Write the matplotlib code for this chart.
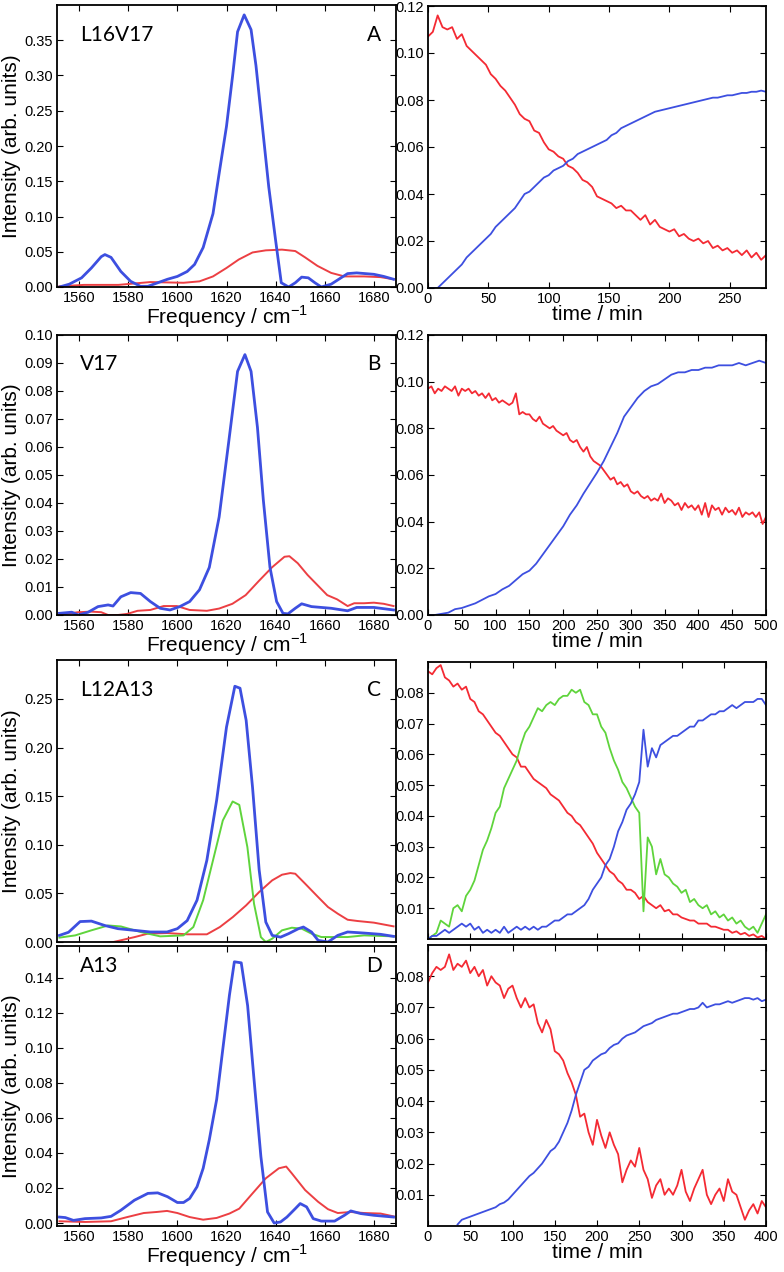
import numpy as np
import matplotlib
matplotlib.use("Agg")
import matplotlib.pyplot as plt
from matplotlib.ticker import FormatStrFormatter, FixedLocator

plt.rcParams['font.family'] = ['Liberation Sans', 'DejaVu Sans']
plt.rcParams['mathtext.fontset'] = 'custom'
plt.rcParams['mathtext.rm'] = 'Liberation Sans'

# ---------------- spectra (left column) ----------------
A_blue_f = [1552, 1556, 1561, 1565, 1569, 1570.5, 1573, 1577, 1581, 1585, 1588, 1592, 1596, 1600, 1604,
            1607, 1610.5, 1614.5, 1617, 1620, 1622.5, 1624.5, 1627.2, 1630, 1632, 1634.6, 1637.2, 1640,
            1642.3, 1645.3, 1648, 1650.6, 1653.3, 1656, 1658.6, 1662.6, 1666.6, 1669.3, 1673, 1680, 1684, 1688]
A_blue_i = [0.0, 0.004, 0.013, 0.027, 0.043, 0.046, 0.042, 0.022, 0.008, 0.001, 0.001, 0.006, 0.011, 0.015,
            0.022, 0.032, 0.056, 0.104, 0.161, 0.228, 0.300, 0.362, 0.386, 0.365, 0.314, 0.228, 0.142, 0.066,
            0.006, 0.0, 0.006, 0.014, 0.013, 0.006, 0.0, 0.004, 0.013, 0.019, 0.020, 0.018, 0.015, 0.011]
A_red_f = [1552, 1562, 1576, 1589, 1602.5, 1609, 1614.5, 1620, 1625, 1630.6, 1636, 1642.6, 1648, 1652,
           1657, 1662.6, 1668, 1676, 1682.7, 1688]
A_red_i = [0.001, 0.003, 0.003, 0.007, 0.006, 0.008, 0.015, 0.027, 0.039, 0.049, 0.052, 0.053, 0.051,
           0.042, 0.030, 0.020, 0.015, 0.015, 0.014, 0.011]

B_blue_f = [1552, 1557, 1559.7, 1563.7, 1567.7, 1571.8, 1573.8, 1577, 1581, 1585, 1589, 1593, 1597, 1601,
            1605, 1609, 1613, 1617, 1621, 1624.5, 1627.5, 1630, 1632.6, 1635, 1637.7, 1640.4, 1643, 1645,
            1648, 1650.6, 1654.6, 1662.6, 1669.3, 1673, 1680, 1688]
B_blue_i = [0.0006, 0.001, 0.0, 0.001, 0.003, 0.0036, 0.0032, 0.0065, 0.008, 0.0077, 0.0048, 0.0024,
            0.0018, 0.003, 0.0048, 0.009, 0.017, 0.035, 0.0625, 0.087, 0.093, 0.087, 0.067, 0.041, 0.017,
            0.0048, 0.0006, 0.0004, 0.0024, 0.004, 0.003, 0.0024, 0.0015, 0.0027, 0.0027, 0.0018]
B_red_f = [1552, 1559.7, 1565, 1569, 1571.8, 1575.8, 1579.6, 1583.8, 1589, 1594.4, 1599.8, 1605, 1612,
           1617, 1622.4, 1627.8, 1633, 1638.5, 1643.6, 1645.6, 1649, 1653, 1657, 1661, 1665, 1669.3, 1672,
           1676, 1680, 1684, 1688]
B_red_i = [0.0002, 0.001, 0.0012, 0.001, 0.0, 0.0, 0.0004, 0.0015, 0.0018, 0.0032, 0.0032, 0.0018, 0.0015,
           0.0023, 0.004, 0.0071, 0.012, 0.017, 0.0208, 0.021, 0.0185, 0.0143, 0.0107, 0.0071, 0.0056,
           0.0032, 0.0042, 0.0042, 0.0044, 0.004, 0.0032]

C_blue_f = [1552, 1555.7, 1560.4, 1565, 1570.4, 1575.8, 1582.5, 1589, 1595.8, 1600, 1604, 1608, 1612, 1616,
            1620, 1623.4, 1625.5, 1628, 1630.6, 1633.3, 1636, 1638.6, 1642, 1645.3, 1649.3, 1651.3, 1654.6,
            1657.3, 1661.3, 1665.3, 1669.3, 1676, 1682.7, 1688]
C_blue_i = [0.0068, 0.010, 0.021, 0.0215, 0.017, 0.0137, 0.012, 0.0103, 0.0103, 0.0137, 0.022, 0.043,
            0.084, 0.146, 0.221, 0.263, 0.261, 0.228, 0.159, 0.074, 0.0205, 0.0068, 0.005, 0.0086, 0.0137,
            0.0154, 0.0103, 0.0017, 0.0, 0.0068, 0.0103, 0.0092, 0.0079, 0.0058]
C_green_f = [1552, 1558.4, 1565, 1571.8, 1577, 1585, 1593, 1602.5, 1606.5, 1610.5, 1614.5, 1618.5, 1622.5,
             1625.2, 1628.5, 1631.2, 1634, 1636, 1638.6, 1642.6, 1646.6, 1650.6, 1654.6, 1658.6, 1669.3,
             1676, 1688]
C_green_i = [0.0045, 0.0068, 0.012, 0.017, 0.016, 0.0103, 0.0058, 0.0068, 0.0154, 0.043, 0.084, 0.125,
             0.1445, 0.141, 0.0976, 0.0394, 0.005, 0.0, 0.0034, 0.012, 0.0147, 0.0137, 0.0086, 0.0051,
             0.0051, 0.0068, 0.0058]
C_red_f = [1552, 1574, 1582.5, 1588, 1595.8, 1604, 1612, 1617.3, 1622.6, 1628, 1633.3, 1638.6, 1642.6,
           1646, 1648, 1652, 1657.3, 1661.3, 1665.3, 1669.3, 1673.3, 1680, 1688]
C_red_i = [-0.004, 0.0, 0.005, 0.0086, 0.0092, 0.0079, 0.0079, 0.0154, 0.0257, 0.0377, 0.0514, 0.0634,
           0.0692, 0.0709, 0.0702, 0.060, 0.0462, 0.036, 0.0291, 0.0229, 0.0216, 0.0199, 0.0161]

D_blue_f = [1552, 1554.4, 1557.7, 1562.4, 1569, 1573, 1577, 1582.5, 1588, 1592, 1596, 1600, 1602.5, 1605,
            1608, 1610.5, 1613, 1616, 1618.5, 1621.2, 1623.2, 1626, 1628.6, 1631.2, 1634, 1636.7, 1639.4,
            1642, 1644.6, 1648, 1650, 1652.6, 1655.3, 1658.6, 1664, 1668, 1670.6, 1674.6, 1680, 1688]
D_blue_i = [0.0034, 0.0031, 0.0015, 0.0025, 0.0029, 0.0038, 0.0073, 0.013, 0.0169, 0.0172, 0.015, 0.0117,
            0.0117, 0.014, 0.0207, 0.0312, 0.0475, 0.0705, 0.0992, 0.13, 0.149, 0.1484, 0.124, 0.082,
            0.0379, 0.0063, 0.0, 0.0006, 0.0034, 0.0082, 0.0111, 0.0092, 0.0025, 0.0011, 0.0011, 0.0044,
            0.0069, 0.0054, 0.0044, 0.0034]
D_red_f = [1552, 1562.4, 1573, 1579.6, 1586.3, 1591.6, 1595.8, 1600, 1605, 1610.5, 1616, 1621.2, 1625.2,
           1630.6, 1636, 1641.3, 1644.3, 1646.6, 1652, 1657.3, 1661.3, 1665.3, 1670.6, 1676, 1682.7, 1688]
D_red_i = [0.001, 0.0006, 0.001, 0.0034, 0.0057, 0.0063, 0.0069, 0.0057, 0.0034, 0.0019, 0.0029, 0.0054,
           0.0082, 0.0169, 0.0255, 0.0312, 0.0322, 0.0283, 0.0188, 0.0121, 0.0079, 0.0057, 0.0063, 0.0057,
           0.0054, 0.0038]

# ---------------- kinetics (right column) ----------------
A_time = np.arange(0, 281, 4)
A_red_k = [0.107, 0.109, 0.116, 0.111, 0.110, 0.111, 0.106, 0.108, 0.103, 0.101,
           0.099, 0.097, 0.095, 0.091, 0.089, 0.086, 0.084, 0.081, 0.078, 0.074,
           0.072, 0.071, 0.067, 0.066, 0.062, 0.059, 0.058, 0.056, 0.055, 0.052,
           0.051, 0.049, 0.046, 0.045, 0.043, 0.039, 0.038, 0.037, 0.036, 0.034,
           0.035, 0.033, 0.033, 0.031, 0.029, 0.031, 0.027, 0.029, 0.026, 0.025,
           0.024, 0.025, 0.022, 0.023, 0.021, 0.020, 0.021, 0.019, 0.020, 0.017,
           0.018, 0.016, 0.017, 0.015, 0.016, 0.014, 0.016, 0.013, 0.015, 0.012,
           0.014]
A_blue_k = [0.0, 0.0, 0.0, 0.002, 0.004, 0.006, 0.008, 0.010, 0.013, 0.015,
            0.017, 0.019, 0.021, 0.023, 0.026, 0.028, 0.030, 0.032, 0.034, 0.037,
            0.040, 0.041, 0.043, 0.045, 0.047, 0.048, 0.050, 0.051, 0.052, 0.054,
            0.055, 0.057, 0.058, 0.059, 0.060, 0.061, 0.062, 0.063, 0.065, 0.066,
            0.068, 0.069, 0.070, 0.071, 0.072, 0.073, 0.074, 0.075, 0.0755, 0.076,
            0.0765, 0.077, 0.0775, 0.078, 0.0785, 0.079, 0.0795, 0.080, 0.0805, 0.081,
            0.081, 0.0815, 0.082, 0.082, 0.0825, 0.083, 0.083, 0.0835, 0.0835, 0.084,
            0.0835]

B_time_red = np.arange(0, 501, 5)
B_red_k = [0.097, 0.098, 0.095, 0.097, 0.096, 0.098, 0.097, 0.096, 0.098, 0.094,
           0.097, 0.096, 0.097, 0.095, 0.096, 0.094, 0.095, 0.093, 0.095, 0.092,
           0.093, 0.091, 0.092, 0.091, 0.090, 0.091, 0.095, 0.086, 0.087, 0.086,
           0.086, 0.084, 0.083, 0.085, 0.082, 0.081, 0.080, 0.081, 0.079, 0.078,
           0.077, 0.078, 0.075, 0.074, 0.075, 0.072, 0.070, 0.072, 0.068, 0.066,
           0.065, 0.064, 0.062, 0.060, 0.058, 0.059, 0.056, 0.057, 0.055, 0.056,
           0.053, 0.052, 0.053, 0.051, 0.050, 0.051, 0.049, 0.050, 0.049, 0.052,
           0.048, 0.050, 0.049, 0.047, 0.048, 0.045, 0.048, 0.046, 0.047, 0.045,
           0.047, 0.043, 0.048, 0.042, 0.047, 0.045, 0.046, 0.043, 0.046, 0.044,
           0.045, 0.043, 0.046, 0.042, 0.044, 0.043, 0.044, 0.042, 0.044, 0.039,
           0.042]
B_time_blue = np.arange(0, 501, 10)
B_blue_k = [0.0, 0.0, 0.0005, 0.001, 0.0025, 0.003, 0.004, 0.005, 0.0065, 0.008,
            0.009, 0.011, 0.0125, 0.015, 0.0175, 0.019, 0.022, 0.026, 0.030, 0.034,
            0.038, 0.043, 0.047, 0.052, 0.0565, 0.061, 0.066, 0.072, 0.078, 0.085,
            0.089, 0.093, 0.096, 0.098, 0.099, 0.101, 0.103, 0.104, 0.104, 0.105,
            0.105, 0.106, 0.106, 0.107, 0.107, 0.107, 0.108, 0.107, 0.108, 0.109,
            0.108]

C_time = np.arange(0, 401, 5)
C_red_k = [0.087, 0.086, 0.088, 0.089, 0.085, 0.084, 0.082, 0.083, 0.081, 0.082,
           0.078, 0.077, 0.074, 0.073, 0.071, 0.069, 0.067, 0.066, 0.064, 0.062,
           0.060, 0.059, 0.056, 0.056, 0.054, 0.052, 0.051, 0.050, 0.049, 0.047,
           0.046, 0.045, 0.043, 0.041, 0.040, 0.038, 0.037, 0.035, 0.033, 0.031,
           0.028, 0.026, 0.024, 0.022, 0.021, 0.019, 0.018, 0.016, 0.016, 0.015,
           0.013, 0.014, 0.012, 0.011, 0.010, 0.011, 0.009, 0.0095, 0.008, 0.008,
           0.007, 0.0065, 0.006, 0.006, 0.005, 0.005, 0.005, 0.004, 0.004, 0.0035,
           0.003, 0.003, 0.002, 0.0025, 0.0015, 0.002, 0.001, 0.0015, 0.0005, 0.001,
           0.0]
C_green_k = [0.0, 0.001, 0.002, 0.006, 0.005, 0.004, 0.010, 0.011, 0.009, 0.014,
             0.016, 0.019, 0.024, 0.029, 0.032, 0.036, 0.041, 0.043, 0.049, 0.052,
             0.055, 0.058, 0.063, 0.067, 0.069, 0.072, 0.075, 0.074, 0.076, 0.077,
             0.076, 0.078, 0.079, 0.079, 0.081, 0.080, 0.081, 0.077, 0.076, 0.073,
             0.073, 0.069, 0.067, 0.062, 0.058, 0.055, 0.051, 0.049, 0.046, 0.043,
             0.041, 0.009, 0.033, 0.030, 0.021, 0.026, 0.021, 0.020, 0.018, 0.017,
             0.015, 0.016, 0.012, 0.013, 0.011, 0.010, 0.011, 0.008, 0.009, 0.007,
             0.008, 0.006, 0.007, 0.005, 0.006, 0.004, 0.003, 0.004, 0.002, 0.005,
             0.008]
C_blue_k = [0.0, 0.001, 0.001, 0.002, 0.003, 0.002, 0.003, 0.004, 0.005, 0.004,
            0.005, 0.003, 0.004, 0.002, 0.003, 0.002, 0.003, 0.002, 0.004, 0.002,
            0.003, 0.004, 0.003, 0.004, 0.003, 0.004, 0.003, 0.004, 0.004, 0.005,
            0.006, 0.006, 0.007, 0.008, 0.008, 0.009, 0.010, 0.011, 0.013, 0.016,
            0.018, 0.020, 0.024, 0.026, 0.030, 0.035, 0.038, 0.042, 0.044, 0.047,
            0.051, 0.068, 0.056, 0.062, 0.059, 0.063, 0.064, 0.065, 0.066, 0.066,
            0.067, 0.068, 0.069, 0.069, 0.071, 0.071, 0.072, 0.073, 0.073, 0.074,
            0.074, 0.075, 0.076, 0.075, 0.076, 0.077, 0.077, 0.077, 0.078, 0.078,
            0.076]

D_time_red = np.arange(0, 401, 5)
D_red_k = [0.078, 0.081, 0.083, 0.082, 0.083, 0.087, 0.082, 0.084, 0.083, 0.085,
           0.081, 0.083, 0.080, 0.082, 0.077, 0.080, 0.078, 0.077, 0.073, 0.076,
           0.077, 0.073, 0.070, 0.073, 0.070, 0.071, 0.065, 0.062, 0.066, 0.063,
           0.056, 0.055, 0.053, 0.049, 0.046, 0.042, 0.035, 0.036, 0.030, 0.026,
           0.034, 0.029, 0.025, 0.030, 0.026, 0.023, 0.014, 0.018, 0.021, 0.019,
           0.025, 0.018, 0.015, 0.009, 0.013, 0.015, 0.010, 0.012, 0.010, 0.013,
           0.018, 0.011, 0.008, 0.012, 0.015, 0.018, 0.010, 0.007, 0.010, 0.012,
           0.008, 0.015, 0.011, 0.010, 0.006, 0.002, 0.005, 0.007, 0.004, 0.008,
           0.006]
D_time_blue = np.arange(35, 401, 5)
D_blue_k = [0.0005, 0.002, 0.0025, 0.003, 0.0035, 0.004, 0.0045, 0.005, 0.0055, 0.006,
            0.007, 0.0075, 0.0085, 0.010, 0.0115, 0.013, 0.0145, 0.016, 0.017, 0.0185,
            0.020, 0.022, 0.024, 0.025, 0.027, 0.030, 0.033, 0.037, 0.042, 0.046,
            0.050, 0.051, 0.053, 0.054, 0.055, 0.0555, 0.057, 0.058, 0.0585, 0.060,
            0.061, 0.0615, 0.062, 0.063, 0.064, 0.0645, 0.065, 0.066, 0.0665, 0.067,
            0.0675, 0.068, 0.068, 0.0685, 0.069, 0.0695, 0.0695, 0.070, 0.0715, 0.070,
            0.0705, 0.071, 0.071, 0.0715, 0.072, 0.0715, 0.072, 0.0725, 0.073, 0.073,
            0.0725, 0.073, 0.072, 0.0725]

panel_names = ["L16V17", "V17", "L12A13", "A13"]
panel_letters = ["A", "B", "C", "D"]

BLUE = "#3d4fe0"
RED_S = "#ec3f43"
RED_K = "#f42a33"
GREEN = "#5fd43c"

W, H = 784, 1272
fig = plt.figure(figsize=(W / 100, H / 100), dpi=100)


def box(l, t, r, b):
    return [l / W, 1 - b / H, (r - l) / W, (b - t) / H]


def style(ax, size=10.5):
    ax.tick_params(direction='in', top=True, right=True, length=4, width=0.8,
                   labelsize=size, pad=3)
    for s in ax.spines.values():
        s.set_linewidth(1.3)


left_boxes = [box(57, 5, 396, 287), box(57, 335, 396, 615), box(57, 660, 396, 942), box(57, 946, 396, 1226)]
right_boxes = [box(428, 6, 766, 288), box(428, 335, 766, 615), box(428, 662, 766, 939), box(428, 945, 766, 1226)]

spectra = [
    [(A_red_f, A_red_i, RED_S, 1.4), (A_blue_f, A_blue_i, BLUE, 2.0)],
    [(B_red_f, B_red_i, RED_S, 1.4), (B_blue_f, B_blue_i, BLUE, 2.0)],
    [(C_red_f, C_red_i, RED_S, 1.4), (C_green_f, C_green_i, GREEN, 1.4), (C_blue_f, C_blue_i, BLUE, 2.0)],
    [(D_red_f, D_red_i, RED_S, 1.4), (D_blue_f, D_blue_i, BLUE, 2.0)],
]
left_ylims = [(0, 0.40), (0, 0.10), (0, 0.29), (-0.0017, 0.158)]
left_yticks = [np.arange(0, 0.351, 0.05), np.arange(0, 0.101, 0.01), np.arange(0, 0.251, 0.05),
               np.arange(0, 0.141, 0.02)]
freq_ticks = [1560, 1580, 1600, 1620, 1640, 1660, 1680]

for k in range(4):
    ax = fig.add_axes(left_boxes[k])
    for f, i, c, lw in spectra[k]:
        ax.plot(f, i, color=c, lw=lw, solid_joinstyle='round')
    ax.set_xlim(1551, 1689)
    ax.set_ylim(*left_ylims[k])
    ax.yaxis.set_major_locator(FixedLocator(left_yticks[k]))
    ax.yaxis.set_major_formatter(FormatStrFormatter('%.2f'))
    ax.xaxis.set_major_locator(FixedLocator(freq_ticks))
    style(ax)
    ax.set_ylabel("Intensity (arb. units)", fontsize=15, labelpad=2)
    if k == 2:
        ax.tick_params(labelbottom=False)
    else:
        ax.set_xlabel(r"Frequency / cm$^{\mathregular{-1}}$", fontsize=15, labelpad=-1)
    ytop = 0.93 if k == 3 else 0.895
    ax.text(0.068, ytop, panel_names[k], transform=ax.transAxes, fontsize=15,
            family=['Lato', 'DejaVu Sans'], va='center', ha='left')
    ax.text(0.935, ytop, panel_letters[k], transform=ax.transAxes, fontsize=15,
            family=['Lato', 'DejaVu Sans'], va='center', ha='center')

kinetics = [
    [(A_time, A_red_k, RED_K), (A_time, A_blue_k, BLUE)],
    [(B_time_red, B_red_k, RED_K), (B_time_blue, B_blue_k, BLUE)],
    [(C_time, C_red_k, RED_K), (C_time, C_green_k, GREEN), (C_time, C_blue_k, BLUE)],
    [(D_time_red, D_red_k, RED_K), (D_time_blue, D_blue_k, BLUE)],
]
right_xlims = [(0, 280), (0, 500), (0, 400), (0, 400)]
right_xticks = [np.arange(0, 251, 50), np.arange(0, 501, 50), np.arange(0, 401, 50), np.arange(0, 401, 50)]
right_ylims = [(0, 0.12), (0, 0.12), (0, 0.09), (0, 0.09)]
right_yticks = [np.arange(0, 0.121, 0.02), np.arange(0, 0.121, 0.02), np.arange(0.01, 0.081, 0.01),
                np.arange(0.01, 0.081, 0.01)]

for k in range(4):
    ax = fig.add_axes(right_boxes[k])
    for t, v, c in kinetics[k]:
        ax.plot(t, v, color=c, lw=1.3)
    ax.set_xlim(*right_xlims[k])
    ax.set_ylim(*right_ylims[k])
    ax.xaxis.set_major_locator(FixedLocator(right_xticks[k]))
    ax.yaxis.set_major_locator(FixedLocator(right_yticks[k]))
    ax.yaxis.set_major_formatter(FormatStrFormatter('%.2f'))
    style(ax)
    if k == 2:
        ax.tick_params(labelbottom=False)
    else:
        ax.set_xlabel("time / min", fontsize=15, labelpad=-1)

fig.savefig("out.png", dpi=100)
